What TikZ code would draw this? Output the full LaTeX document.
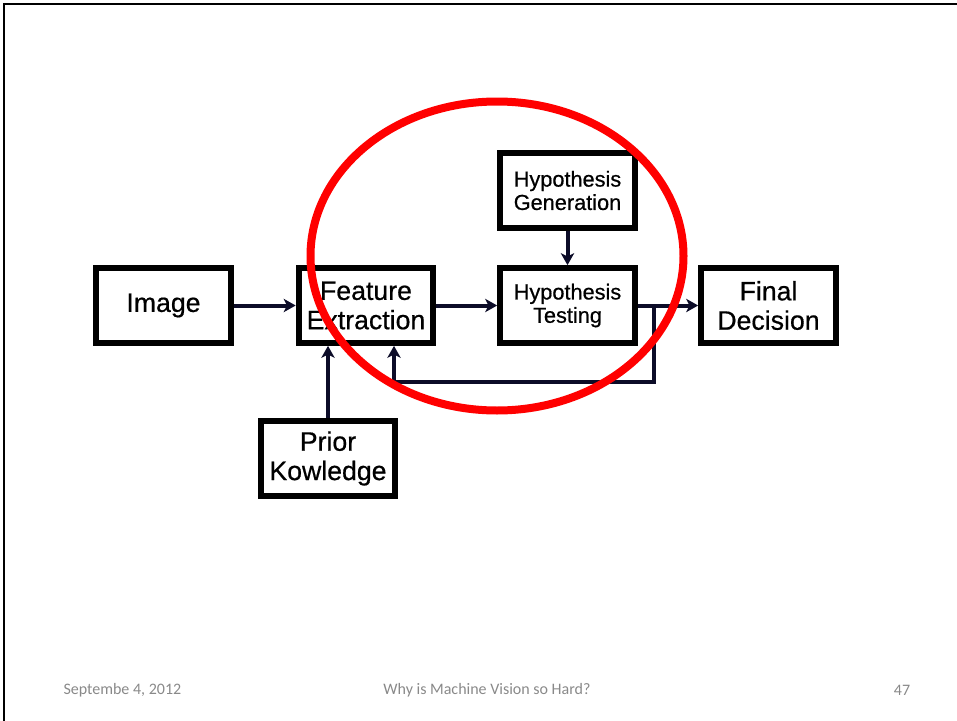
\documentclass[tikz,border=0pt]{standalone}
\usepackage{fontspec}
\setmainfont{Liberation Sans}
\newfontfamily\boxfont[FakeBold=0.6]{Liberation Sans}
\newfontfamily\footfont{Carlito}
\usetikzlibrary{arrows.meta}

\definecolor{navy}{RGB}{12,12,40}
\definecolor{footgray}{RGB}{137,137,137}
\definecolor{ringred}{RGB}{255,0,0}

\tikzset{every picture/.style={line width=0.75pt}}
\tikzset{
	blockbox/.style={draw, line width=4.5pt, minimum width=101pt, minimum height=56pt, inner sep=0pt, align=center, font=\boxfont\fontsize{20}{22}\selectfont},
	hypobox/.style={blockbox, font=\boxfont\fontsize{16.3}{17.5}\selectfont},
	flow/.style={draw=navy, line width=3pt, -{Stealth[length=9pt,width=10pt,inset=2.5pt]}},
	footnote/.style={text=footgray, inner sep=0pt, font=\footfont\fontsize{12}{14}\selectfont}
}

\begin{document}
\begin{tikzpicture}[x=0.75pt,y=0.75pt,yscale=-1,xscale=1]
	\useasboundingbox (0,0) rectangle (957,721);

	% slide frame
	\draw [line width=1.5pt] (4,721) -- (4,4) -- (957,4);

	% Boxes
	\node [blockbox] (image) at (163.5,305.5) {Image};
	\node [blockbox] (feature) at (366,305.5) {Feature\\Extraction};
	\node [hypobox] (hgen) at (567.5,190.5) {Hypothesis\\Generation};
	\node [hypobox] (htest) at (567.5,305.5) {Hypothesis\\Testing};
	\node [blockbox] (final) at (768.5,305.5) {Final\\Decision};
	\node [blockbox] (prior) at (328,458.5) {Prior\\Kowledge};

	% Arrows
	\draw [flow] (image) -- (feature);
	\draw [flow] (feature) -- (htest);
	\draw [flow] (hgen) -- (htest);
	\draw [flow] (htest) -- (final);
	\draw [flow] (prior) -- (prior |- feature.south);

	% feedback loop
	\coordinate (tap) at (654,305.5);
	\coordinate (loop) at (654,382);
	\coordinate (fbin) at ([xshift=21pt]feature.south);
	\draw [flow] (tap) -- (loop) -| (fbin);

	% red ring
	\draw [ringred, line width=6pt] (497,256) ellipse [x radius=186.5, y radius=154.5];

	% Footer
	\node [footnote, anchor=west] (date) at (63,690) {Septembe 4, 2012};
	\node [footnote] (title) at (487,690) {Why is Machine Vision so Hard?};
	\node [footnote] (page) at (902,690) {47};
\end{tikzpicture}
\end{document}
